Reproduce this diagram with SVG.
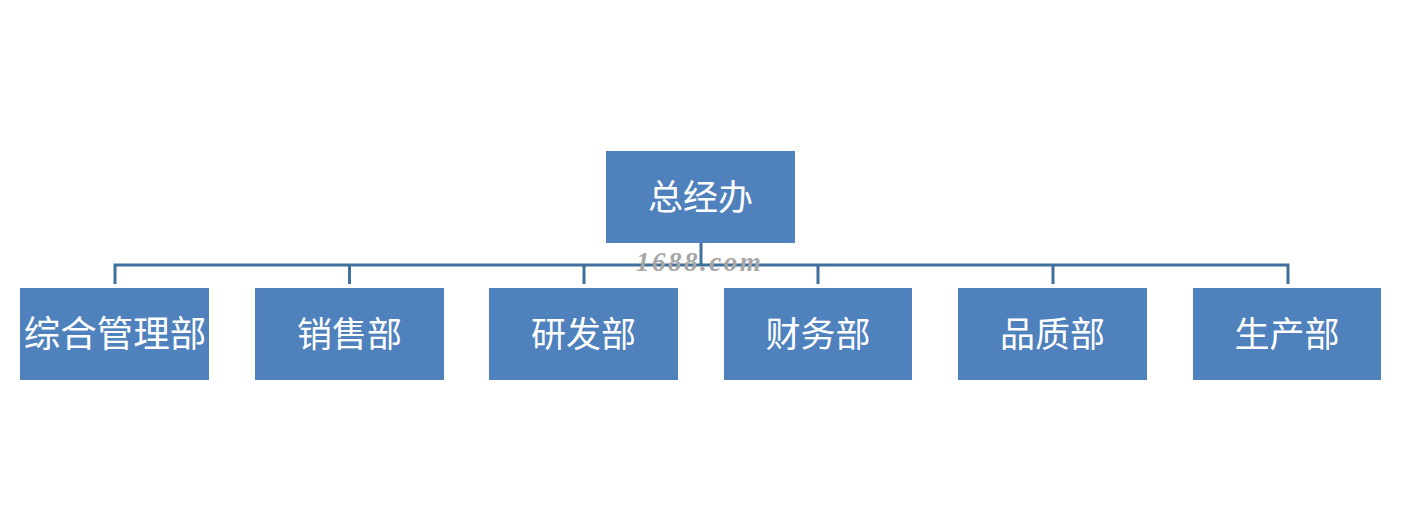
<svg xmlns="http://www.w3.org/2000/svg" width="1404" height="517" viewBox="0 0 1404 517">
<style>
.box{fill:#4f81bd}
.lbl{fill:#ffffff;font-family:"Noto Sans CJK SC",sans-serif;font-size:35px;text-anchor:middle;dominant-baseline:central}
.conn{stroke:#41709c;stroke-width:3;fill:none}
.wm{fill:#a6a6a6;font-family:"Liberation Serif",serif;font-style:italic;font-weight:bold;font-size:27px;letter-spacing:2.5px}
</style>
<rect width="1404" height="517" fill="#ffffff"/>
<g id="connectors">
<path class="conn" d="M701 243V265M115 284V265H1288V284M349.5 265V284M584 265V284M818 265V284M1053 265V284"/>
</g>
<g id="n0"><rect class="box" x="606" y="151" width="189" height="92"/><text class="lbl" x="700.5" y="194">总经办</text></g>
<g id="n1"><rect class="box" x="20" y="288" width="189" height="92"/><text class="lbl" x="115" y="331" style="font-size:36.5px">综合管理部</text></g>
<g id="n2"><rect class="box" x="255" y="288" width="189" height="92"/><text class="lbl" x="349.5" y="331">销售部</text></g>
<g id="n3"><rect class="box" x="489" y="288" width="189" height="92"/><text class="lbl" x="583.5" y="331">研发部</text></g>
<g id="n4"><rect class="box" x="724" y="288" width="188" height="92"/><text class="lbl" x="818" y="331">财务部</text></g>
<g id="n5"><rect class="box" x="958" y="288" width="189" height="92"/><text class="lbl" x="1052.5" y="331">品质部</text></g>
<g id="n6"><rect class="box" x="1193" y="288" width="188" height="92"/><text class="lbl" x="1287" y="331">生产部</text></g>
<text class="wm" x="636" y="271">1688.com</text>
</svg>
